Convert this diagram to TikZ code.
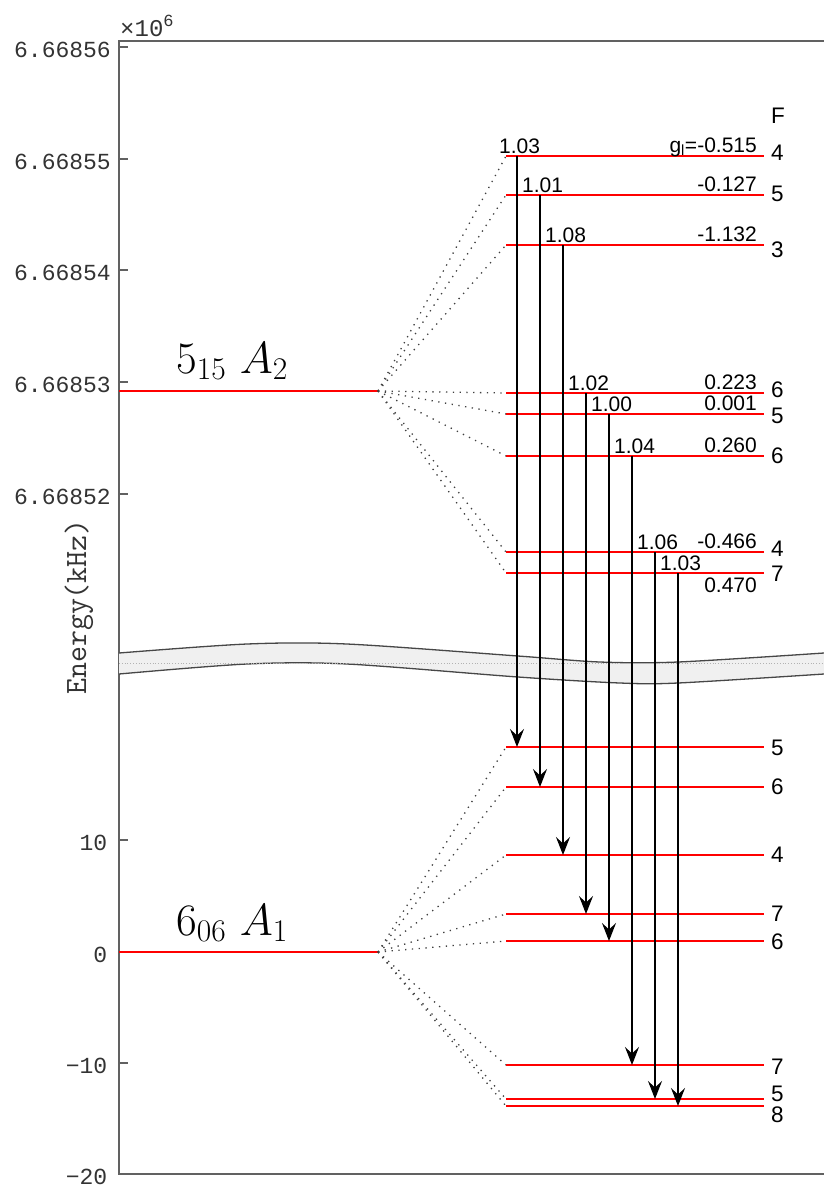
\RequirePackage{fix-cm}
\documentclass[tikz,border=0pt]{standalone}
\usepackage{fontspec}
\setsansfont{Liberation Sans}
\newfontfamily\axisfont{Liberation Mono}
\usetikzlibrary{arrows.meta}

\tikzset{
  axisline/.style={black!62, line width=1.5pt},
  redlevel/.style={draw=red, line width=1.5pt},
  fanline/.style={black!75, line width=1.3pt, dash pattern=on 1.3pt off 5.5pt},
  trans/.style={-{Stealth[length=18pt,width=14pt,inset=6.5pt]}, line width=1.3pt},
  ticklab/.style={font=\axisfont\fontsize{23}{23}\selectfont, anchor=base east, inner sep=0pt, text=black!80},
  numlab/.style={font=\sffamily\fontsize{21}{21}\selectfont, inner sep=0pt},
  flab/.style={font=\sffamily\fontsize{22.5}{22.5}\selectfont, anchor=west, inner sep=0pt},
  statelab/.style={font=\fontsize{45}{45}\selectfont, anchor=base west, inner sep=0pt},
}

\begin{document}
\begin{tikzpicture}[x=1pt, y=-1pt]
  \useasboundingbox (0,0) rectangle (824,1187);

  % axes
  \draw[axisline] (824,41) -- (119,41) -- (119,1174) -- (824,1174);
  \foreach \y/\t in {47/6.66856, 159/6.66855, 270/6.66854, 382/6.66853, 494/6.66852}{
    \draw[axisline] (119,\y) -- (128,\y);
    \node[ticklab] at (111,\y+10.5) {\t};
  }
  \foreach \y/\t in {840/10, 952/0, 1063/−10, 1174/−20}{
    \draw[axisline] (119,\y) -- (128,\y);
    \node[ticklab] at (107.5,\y+10) {\t};
  }
  \node[ticklab, anchor=base west, font=\axisfont\fontsize{24}{24}\selectfont] (scale) at (120,36)
    {×10\raisebox{10pt}{\fontsize{17}{17}\selectfont 6}};
  \node[rotate=90, font=\ttfamily\fontsize{31}{31}\selectfont, text=black!80] (elabel) at (79,607) {Energy(kHz)};

  % axis break
  \fill[black!6] plot[smooth] coordinates {(119,653) (247,644) (347,644) (518,656) (600,662) (678,662) (824,653)}
    -- plot[smooth] coordinates {(824,674) (678,683) (620,683) (518,677) (347,664) (247,664) (119,674)} -- cycle;
  \draw[black!72, line width=1.3pt] plot[smooth] coordinates {(119,653) (247,644) (347,644) (518,656) (600,662) (678,662) (824,653)};
  \draw[black!72, line width=1.3pt] plot[smooth] coordinates {(119,674) (247,664) (347,664) (518,677) (620,683) (678,683) (824,674)};
  \draw[black!30, line width=0.8pt, dotted] (119,663.5) -- (824,663.5);

  % 5_15 A_2
  \draw[redlevel] (119,391) coordinate (upbase) -- (378,391) coordinate (upfan);
  \node[statelab] (uplabel) at (176,373) {$5_{15}\ A_2$};
  \node[flab] (ftitle) at (771,116) {F};
  \foreach \n/\y/\s/\g/\fy/\F in {
      1/156/1.03/g\textsubscript{l}=-0.515/153/4,
      2/195/1.01/-0.127/193.5/5,
      3/245/1.08/-1.132/250/3,
      4/393/1.02/0.223/389.5/6,
      5/414/1.00/0.001/415.5/5,
      6/456/1.04/0.260/455.5/6,
      7/552/1.06/-0.466/548.5/4,
      8/573/1.03/{}/574/7}{
    \draw[redlevel] (506,\y) coordinate (u\n) -- (764,\y) coordinate (u\n e);
    \draw[fanline] (upfan) -- (u\n);
    \node[numlab, anchor=base east] (ug\n) at (757,\y-3.5) {\g};
    \node[flab] (uf\n) at (771,\fy) {\F};
    \coordinate (col\n) at (494+23*\n,0);
    \node[numlab, anchor=base west] (us\n) at (476+23*\n,\y-3) {\s};
  }
  \node[numlab, anchor=base east] (ug8) at (757,592) {0.470};

  % 6_06 A_1
  \draw[redlevel] (119,952) coordinate (lowbase) -- (378,952) coordinate (lowfan);
  \node[statelab] (lowlabel) at (176,935) {$6_{06}\ A_1$};
  \foreach \n/\y/\fy/\F in {
      1/747/747.5/5,
      2/787/787/6,
      3/855/855/4,
      4/914/913.5/7,
      5/941/941.5/6,
      6/1065/1066.5/7,
      7/1099/1093.5/5,
      8/1106/1115/8}{
    \draw[redlevel] (506,\y) coordinate (l\n) -- (764,\y) coordinate (l\n e);
    \draw[fanline] (lowfan) -- (l\n);
    \node[flab] (lf\n) at (771,\fy) {\F};
  }

  % transitions
  \foreach \n in {1,...,8}
    \draw[trans] (u\n -| col\n) -- (l\n -| col\n);
\end{tikzpicture}
\end{document}
